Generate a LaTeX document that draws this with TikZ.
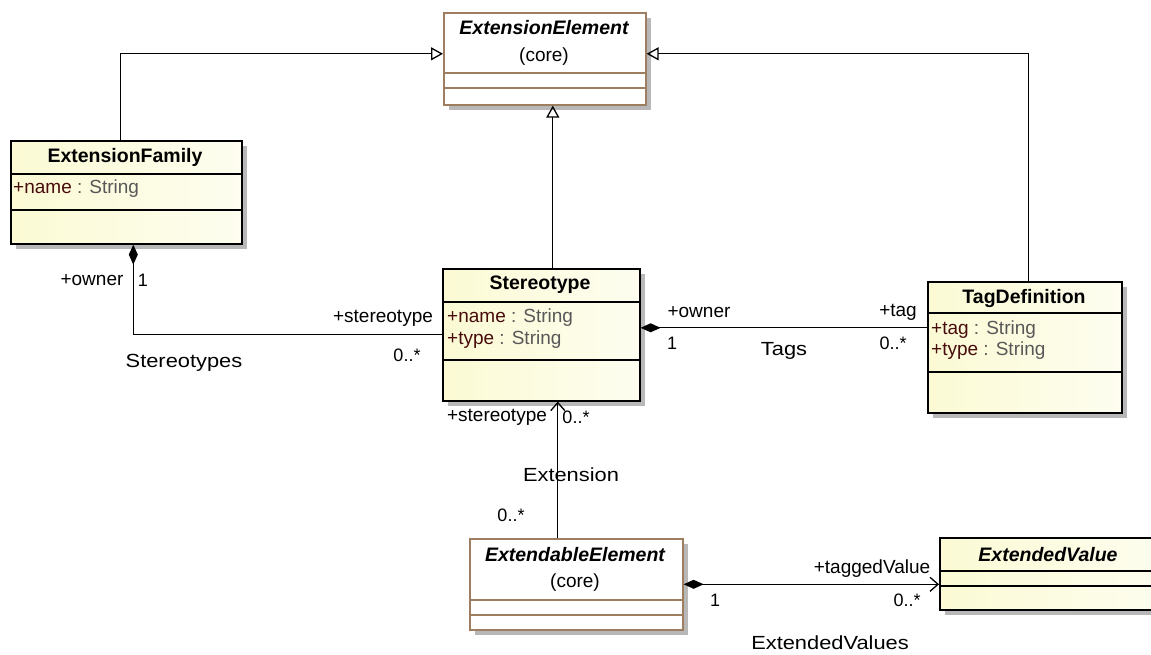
\documentclass[tikz,border=0pt]{standalone}
\usepackage{fontspec}
\setmainfont{Liberation Sans}
\newfontfamily\assocfont{Liberation Sans}[FakeStretch=1.15]
\usetikzlibrary{arrows.meta,shadows}

\definecolor{clsfill}{RGB}{251,250,212}
\definecolor{coreline}{RGB}{157,126,96}
\definecolor{attrname}{RGB}{72,12,12}
\definecolor{attrtype}{RGB}{88,88,88}

\newcommand\attrline[2]{\textcolor{attrname}{+#1} : #2}

\tikzset{
	box/.style={draw, line width=1.6pt, anchor=north west, inner sep=0pt,
		drop shadow={shadow xshift=5pt, shadow yshift=-5pt, fill=black!28, opacity=1}},
	cls/.style={box, left color=clsfill, right color=clsfill!35},
	core/.style={box, draw=coreline, fill=white},
	title/.style={inner sep=0pt, font=\fontsize{19.5}{22}\selectfont\bfseries},
	abstitle/.style={title, font=\fontsize{19.5}{22}\selectfont\bfseries\itshape},
	attr/.style={inner sep=0pt, anchor=west, text=attrtype, font=\fontsize{19}{22}\selectfont},
	lbl/.style={inner sep=0pt, font=\fontsize{19}{22}\selectfont},
	mult/.style={inner sep=0pt, font=\fontsize{18}{21}\selectfont},
	assoc/.style={inner sep=0pt, font=\fontsize{19}{22}\assocfont},
	gen/.style={line width=1.3pt, -{Triangle[open, length=12pt, width=13pt]}},
	comp/.style={line width=1.3pt, {Diamond[length=20pt, width=9pt]}-},
	nav/.style={line width=1.3pt, -{Straight Barb[length=8pt, width=14pt]}},
	compnav/.style={line width=1.3pt, {Diamond[length=20pt, width=9pt]}-{Straight Barb[length=8pt, width=14pt]}}
}

\begin{document}
\begin{tikzpicture}[x=1pt, y=-1pt]
	\useasboundingbox (0,0) rectangle (1151,654);
	\clip (0,0) rectangle (1151,654);

	% ExtensionElement
	\node[core, minimum width=202pt, minimum height=92pt] (elem) at (443,12) {};
	\draw[coreline, line width=1.6pt] (443,73) -- (645,73) (443,88) -- (645,88);
	\node[abstitle] (elemt) at (544,28) {ExtensionElement};
	\node[lbl] (elemc) at (544,57) {(core)};

	% ExtensionFamily
	\node[cls, minimum width=231pt, minimum height=103pt] (family) at (10,140) {};
	\draw[line width=1.6pt] (10,174) -- (241,174) (10,210) -- (241,210);
	\node[title] (familyt) at (125,157) {ExtensionFamily};
	\node[attr] (familya) at (13,189) {\attrline{name}{String}};

	% Stereotype
	\node[cls, minimum width=197pt, minimum height=132pt] (stereo) at (442,268) {};
	\draw[line width=1.6pt] (442,302) -- (639,302) (442,360) -- (639,360);
	\node[title] (stereot) at (540,285) {Stereotype};
	\node[attr] (stereoa) at (447,318) {\attrline{name}{String}};
	\node[attr] (stereob) at (447,340) {\attrline{type}{String}};

	% TagDefinition
	\node[cls, minimum width=194pt, minimum height=131pt] (tagdef) at (927,281) {};
	\draw[line width=1.6pt] (927,313) -- (1121,313) (927,372) -- (1121,372);
	\node[title] (tagdeft) at (1024,298) {TagDefinition};
	\node[attr] (tagdefa) at (931,330) {\attrline{tag}{String}};
	\node[attr] (tagdefb) at (931,351) {\attrline{type}{String}};

	% ExtendableElement
	\node[core, minimum width=213pt, minimum height=91pt] (extable) at (469,538) {};
	\draw[coreline, line width=1.6pt] (469,600) -- (682,600) (469,615) -- (682,615);
	\node[abstitle] (extablet) at (575,555) {ExtendableElement};
	\node[lbl] (extablec) at (575,583) {(core)};

	% ExtendedValue
	\node[cls, minimum width=230pt, minimum height=72pt] (extval) at (939,537) {};
	\draw[line width=1.6pt] (939,571) -- (1169,571) (939,586) -- (1169,586);
	\node[abstitle] (extvalt) at (1048,555) {ExtendedValue};

	% generalizations
	\draw[gen] ([xshift=-6pt]family.north) |- ([yshift=5pt]elem.west);
	\draw[gen] ([xshift=11.5pt]stereo.north) -- ([xshift=8pt]elem.south);
	\draw[gen] ([xshift=4pt]tagdef.north) |- ([yshift=5pt]elem.east);

	% Stereotypes
	\draw[comp] ([xshift=7pt]family.south) |- (stereo.west);
	\node[lbl] (ownera) at (92,280) {+owner};
	\node[mult] (onea) at (143,280) {1};
	\node[lbl] (stereoa) at (383,318) {+stereotype};
	\node[mult] (manya) at (407,355) {0..*};
	\node[assoc] (stereos) at (184,363) {Stereotypes};

	% Tags
	\coordinate (tagsl) at ([yshift=7pt]stereo.east);
	\draw[comp] (tagsl) -- (tagsl -| tagdef.west);
	\node[lbl] (ownerb) at (699,312) {+owner};
	\node[mult] (oneb) at (672,343) {1};
	\node[assoc] (tags) at (784,351) {Tags};
	\node[lbl] (tagb) at (898,312) {+tag};
	\node[mult] (manyb) at (893,343) {0..*};

	% Extension
	\coordinate (extup) at ([xshift=-18.5pt]extable.north);
	\draw[nav] (extup) -- (extup |- stereo.south);
	\node[lbl] (stereoc) at (497,417) {+stereotype};
	\node[mult] (manyc) at (576,417) {0..*};
	\node[assoc] (extension) at (571,475) {Extension};
	\node[mult] (manyd) at (511,515) {0..*};

	% ExtendedValues
	\draw[compnav] (extable.east) -- (extable.east -| extval.west);
	\node[lbl] (tagged) at (872,569) {+taggedValue};
	\node[mult] (onee) at (715,600) {1};
	\node[mult] (manye) at (907,600) {0..*};
	\node[assoc] (extvals) at (830,643) {ExtendedValues};
\end{tikzpicture}
\end{document}
